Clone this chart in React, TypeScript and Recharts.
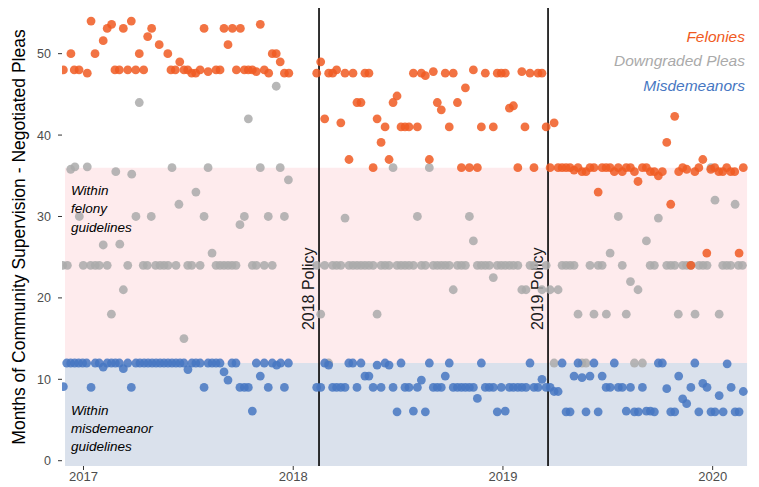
import { ScatterChart, Scatter, XAxis, YAxis, ReferenceArea, ReferenceLine } from 'recharts'

// [decimal year, months of community supervision]
const felonies: [number, number][] = [
  [2016.904, 48], [2016.94, 50], [2016.956, 48], [2016.979, 48], [2017.018, 47.6], [2017.036, 54], [2017.055, 50],
  [2017.094, 51.6], [2017.113, 53.1], [2017.134, 53.6], [2017.15, 48], [2017.171, 48], [2017.19, 53.1], [2017.211, 48],
  [2017.228, 54], [2017.249, 48], [2017.266, 50], [2017.287, 48], [2017.306, 52.1], [2017.325, 53.1], [2017.361, 51.1],
  [2017.402, 50], [2017.417, 48], [2017.438, 48], [2017.459, 49], [2017.479, 48], [2017.497, 48], [2017.516, 47.6],
  [2017.535, 47.6], [2017.556, 48], [2017.575, 53.1], [2017.594, 47.8], [2017.632, 48], [2017.651, 48], [2017.67, 53.1],
  [2017.689, 51.1], [2017.71, 53.1], [2017.729, 48], [2017.748, 53.1], [2017.767, 48], [2017.786, 48], [2017.805, 48],
  [2017.824, 47.8], [2017.843, 53.6], [2017.862, 48], [2017.883, 47.6], [2017.9, 50], [2017.919, 50], [2017.938, 49],
  [2017.958, 47.6], [2017.979, 47.6],
  [2018.112, 47.6], [2018.131, 49], [2018.15, 42], [2018.169, 47.6], [2018.188, 47.6], [2018.207, 48], [2018.227, 41.5],
  [2018.247, 47.6], [2018.266, 37], [2018.285, 47.6], [2018.304, 44], [2018.323, 44], [2018.342, 47.6], [2018.361, 47.6],
  [2018.381, 36], [2018.4, 42], [2018.419, 39.1], [2018.438, 41], [2018.457, 37], [2018.476, 44], [2018.495, 44.8],
  [2018.514, 41], [2018.533, 41], [2018.552, 41], [2018.573, 47.6], [2018.592, 41], [2018.611, 47.6], [2018.63, 47.3],
  [2018.649, 37], [2018.668, 47.8], [2018.687, 44], [2018.706, 43.1], [2018.725, 47.6], [2018.744, 41], [2018.763, 47.6],
  [2018.783, 44], [2018.802, 36], [2018.821, 45.8], [2018.84, 36], [2018.859, 48], [2018.878, 36], [2018.897, 41],
  [2018.916, 47.6], [2018.954, 41], [2018.973, 47.6], [2018.992, 47.6], [2019.011, 47.6], [2019.031, 43.3], [2019.05, 43.6],
  [2019.071, 36], [2019.09, 47.8], [2019.105, 41], [2019.129, 47.6], [2019.148, 36], [2019.167, 47.6], [2019.186, 47.6],
  [2019.206, 41], [2019.225, 36], [2019.244, 41.5], [2019.263, 36], [2019.282, 36], [2019.301, 36], [2019.32, 36],
  [2019.339, 35.7], [2019.358, 36], [2019.377, 35.5], [2019.396, 35.5], [2019.415, 36], [2019.434, 36], [2019.454, 33],
  [2019.473, 36], [2019.492, 36], [2019.511, 36], [2019.531, 35.5], [2019.55, 36], [2019.569, 35.5], [2019.588, 36],
  [2019.608, 36], [2019.627, 35.5], [2019.644, 34.3], [2019.665, 36], [2019.684, 36], [2019.703, 35.5], [2019.722, 35.5],
  [2019.741, 35], [2019.76, 35.5], [2019.781, 39.1], [2019.8, 31.5], [2019.819, 42.3], [2019.838, 35.5], [2019.857, 36],
  [2019.876, 35.8], [2019.896, 24], [2019.915, 35.5], [2019.934, 36], [2019.953, 37], [2019.972, 25.5], [2019.991, 35.8],
  [2020.01, 36], [2020.029, 35.5], [2020.048, 35.5], [2020.067, 36], [2020.086, 35.5], [2020.105, 35.5], [2020.126, 25.5],
  [2020.146, 36],
]

const downgraded: [number, number][] = [
  [2016.901, 24], [2016.923, 24], [2016.939, 35.8], [2016.959, 36.1], [2016.98, 30], [2016.999, 24], [2017.018, 36.1],
  [2017.034, 24], [2017.056, 24], [2017.075, 24], [2017.094, 26.5], [2017.113, 24], [2017.133, 18], [2017.154, 35.5],
  [2017.173, 26.6], [2017.19, 21], [2017.211, 24], [2017.23, 35.2], [2017.25, 30], [2017.266, 44], [2017.285, 24],
  [2017.304, 24], [2017.323, 30], [2017.344, 24], [2017.365, 24], [2017.384, 24], [2017.403, 24], [2017.422, 36],
  [2017.441, 24], [2017.455, 31.5], [2017.479, 15], [2017.497, 24], [2017.516, 24], [2017.536, 33], [2017.556, 24],
  [2017.575, 30], [2017.594, 36], [2017.613, 25.5], [2017.632, 24], [2017.651, 24], [2017.67, 24], [2017.689, 24],
  [2017.708, 24], [2017.727, 24], [2017.746, 29], [2017.767, 30], [2017.786, 42], [2017.805, 24], [2017.824, 24],
  [2017.843, 36], [2017.862, 24], [2017.881, 30], [2017.9, 24], [2017.919, 46], [2017.938, 36], [2017.958, 30],
  [2017.977, 34.5],
  [2018.112, 24], [2018.131, 18], [2018.15, 24], [2018.169, 12], [2018.188, 24], [2018.207, 24], [2018.227, 24],
  [2018.247, 29.8], [2018.266, 24], [2018.285, 24], [2018.304, 24], [2018.323, 24], [2018.342, 24], [2018.361, 24],
  [2018.381, 24], [2018.4, 18], [2018.419, 24], [2018.438, 24], [2018.457, 24], [2018.476, 36], [2018.495, 24],
  [2018.514, 24], [2018.533, 24], [2018.552, 24], [2018.573, 24], [2018.592, 30], [2018.611, 24], [2018.63, 24],
  [2018.649, 36], [2018.668, 24], [2018.687, 24], [2018.706, 24], [2018.725, 24], [2018.744, 24], [2018.763, 21],
  [2018.783, 24], [2018.802, 24], [2018.821, 24], [2018.84, 30], [2018.859, 27], [2018.878, 24], [2018.897, 24],
  [2018.916, 24], [2018.935, 24], [2018.954, 22.5], [2018.973, 24], [2018.992, 24], [2019.011, 24], [2019.031, 24],
  [2019.05, 24], [2019.071, 24], [2019.09, 21], [2019.11, 21], [2019.129, 24], [2019.148, 24], [2019.186, 21],
  [2019.206, 24], [2019.225, 21], [2019.244, 12], [2019.263, 21], [2019.282, 24], [2019.301, 24], [2019.32, 24],
  [2019.339, 24], [2019.358, 18], [2019.377, 12], [2019.396, 12], [2019.415, 24], [2019.434, 18], [2019.454, 24],
  [2019.473, 24], [2019.493, 18], [2019.511, 25.5], [2019.55, 30], [2019.569, 24], [2019.588, 18], [2019.608, 22],
  [2019.627, 12], [2019.644, 21], [2019.665, 12], [2019.684, 27], [2019.702, 24], [2019.722, 24], [2019.741, 29.8],
  [2019.781, 24], [2019.8, 24], [2019.819, 24], [2019.836, 18], [2019.857, 24], [2019.876, 24], [2019.896, 24],
  [2019.916, 18], [2019.935, 24], [2019.954, 24], [2019.973, 24], [2019.992, 36], [2020.011, 32], [2020.031, 18],
  [2020.048, 24], [2020.067, 24], [2020.086, 24], [2020.107, 31.5], [2020.123, 24], [2020.142, 24],
]

const misdemeanors: [number, number][] = [
  [2016.904, 9.1], [2016.92, 12], [2016.939, 12], [2016.958, 12], [2016.977, 12], [2016.996, 12], [2017.015, 12],
  [2017.036, 9], [2017.056, 12], [2017.075, 12], [2017.094, 11.5], [2017.113, 12], [2017.133, 12], [2017.152, 12],
  [2017.171, 12], [2017.19, 11.3], [2017.211, 12], [2017.228, 9], [2017.25, 12], [2017.269, 12], [2017.289, 12],
  [2017.308, 12], [2017.327, 12], [2017.346, 12], [2017.365, 12], [2017.384, 12], [2017.403, 12], [2017.422, 12],
  [2017.441, 12], [2017.46, 12], [2017.479, 12], [2017.498, 11.2], [2017.517, 12], [2017.536, 12], [2017.556, 12],
  [2017.575, 9], [2017.594, 12], [2017.613, 12], [2017.632, 12], [2017.651, 12], [2017.67, 10.9], [2017.689, 9.9],
  [2017.708, 12], [2017.727, 12], [2017.746, 9], [2017.767, 9], [2017.786, 9], [2017.805, 6.1], [2017.824, 12],
  [2017.843, 10.4], [2017.862, 12], [2017.881, 9], [2017.9, 12], [2017.921, 11.75], [2017.94, 12], [2017.958, 9],
  [2017.977, 12],
  [2018.112, 9], [2018.131, 9], [2018.15, 12], [2018.169, 11.75], [2018.188, 9], [2018.207, 9], [2018.227, 9],
  [2018.247, 9], [2018.265, 12], [2018.284, 12], [2018.304, 9], [2018.323, 12], [2018.342, 10.4], [2018.361, 10.4],
  [2018.381, 9], [2018.4, 11.75], [2018.419, 9], [2018.438, 12], [2018.457, 11.75], [2018.476, 9], [2018.495, 6],
  [2018.514, 12], [2018.533, 9], [2018.552, 9], [2018.573, 6.1], [2018.592, 9], [2018.611, 9.9], [2018.63, 6],
  [2018.649, 12], [2018.668, 9], [2018.687, 9], [2018.706, 9], [2018.725, 10.4], [2018.744, 12], [2018.763, 9],
  [2018.783, 9], [2018.802, 9], [2018.821, 9], [2018.84, 9], [2018.859, 9], [2018.878, 7.65], [2018.897, 12],
  [2018.916, 9], [2018.935, 9], [2018.954, 9], [2018.973, 6], [2018.992, 9], [2019.011, 6.1], [2019.031, 9],
  [2019.05, 9], [2019.071, 9], [2019.09, 9], [2019.11, 9], [2019.129, 12], [2019.148, 9], [2019.167, 9],
  [2019.186, 10], [2019.206, 9], [2019.225, 9], [2019.244, 8.5], [2019.263, 8.5], [2019.282, 12], [2019.301, 6],
  [2019.32, 6], [2019.339, 10.4], [2019.358, 12], [2019.377, 10.2], [2019.396, 6], [2019.415, 10.4], [2019.434, 12],
  [2019.454, 6], [2019.473, 10.4], [2019.492, 9], [2019.511, 9], [2019.531, 12], [2019.55, 9], [2019.569, 9],
  [2019.588, 6.1], [2019.608, 9], [2019.627, 6], [2019.646, 6], [2019.665, 9], [2019.684, 6.1], [2019.703, 6.1],
  [2019.722, 6], [2019.741, 12], [2019.76, 12], [2019.781, 8.85], [2019.8, 6], [2019.819, 6], [2019.838, 10.4],
  [2019.857, 7.6], [2019.876, 7], [2019.896, 9], [2019.915, 12], [2019.934, 6], [2019.953, 9.5], [2019.973, 9],
  [2019.992, 6], [2020.011, 6], [2020.031, 8], [2020.05, 6], [2020.069, 11.9], [2020.088, 9], [2020.107, 6],
  [2020.126, 6], [2020.146, 8.5],
]

const xTicks = [2017, 2018, 2019, 2020]
const yTicks = [0, 10, 20, 30, 40, 50]
const xDomain: [number, number] = [2016.8975, 2020.178]
const yDomain: [number, number] = [-0.65, 55.61]
const bandStart = 2016.912
const bandEnd = 2020.164
const policies = [
  { year: 2018.123, label: '2018 Policy' },
  { year: 2019.215, label: '2019 Policy' },
]

const FONT = '"Liberation Sans", Arial, Helvetica, sans-serif'
const ORANGE = '#F05A22'
const GRAY = '#AAAAAA'
const BLUE = '#4777C2'

const toPoints = (rows: [number, number][]) => rows.map(([x, y]) => ({ x, y }))

const dot = (color: string) => (props: any) => (
  <circle cx={props.cx} cy={props.cy} r={4.4} fill={color} fillOpacity={0.85} />
)

const policyLabel = (text: string) => (props: any) => {
  const vb = props.viewBox ?? {}
  const x = (vb.x ?? 0) - 5
  const y = (vb.y ?? 0) + (vb.height ?? 0) * 0.613
  return (
    <text x={x} y={y} transform={`rotate(-90 ${x} ${y})`} textAnchor="middle" fontFamily={FONT} fontSize={16} fill="#1a1a1a">
      {text}
    </text>
  )
}

export default function App() {
  return (
    <div style={{ position: 'absolute', left: 0, top: 0, width: 759, height: 487, background: '#fff' }}>
      <ScatterChart width={759} height={487} margin={{ top: 8, right: 9, bottom: 0, left: 0 }}>
        <ReferenceArea x1={bandStart} x2={bandEnd} y1={12} y2={36} fill="#FEEBED" fillOpacity={1} stroke="none" />
        <ReferenceArea x1={bandStart} x2={bandEnd} y1={yDomain[0]} y2={12} fill="#DAE1EC" fillOpacity={1} stroke="none" />
        <XAxis
          type="number"
          dataKey="x"
          domain={xDomain}
          ticks={xTicks}
          allowDataOverflow
          height={21}
          axisLine={false}
          tickSize={4}
          tickMargin={2}
          tickLine={{ stroke: '#333333' }}
          tick={{ fontSize: 13, fill: '#4D4D4D', fontFamily: FONT }}
        />
        <YAxis
          type="number"
          dataKey="y"
          domain={yDomain}
          ticks={yTicks}
          allowDataOverflow
          width={62}
          axisLine={false}
          tickSize={4}
          tickMargin={7}
          tickLine={{ stroke: '#333333' }}
          tick={{ fontSize: 12.5, fill: '#4D4D4D', fontFamily: FONT }}
        />
        {policies.map((p) => (
          <ReferenceLine key={p.label} x={p.year} stroke="#000" strokeWidth={1.6} label={policyLabel(p.label)} />
        ))}
        <Scatter data={toPoints(downgraded)} shape={dot(GRAY)} isAnimationActive={false} />
        <Scatter data={toPoints(misdemeanors)} shape={dot(BLUE)} isAnimationActive={false} />
        <Scatter data={toPoints(felonies)} shape={dot(ORANGE)} isAnimationActive={false} />
      </ScatterChart>
      <svg width={759} height={487} style={{ position: 'absolute', left: 0, top: 0, pointerEvents: 'none' }}>
        <text x={25} y={237} transform="rotate(-90 25 237)" textAnchor="middle" fontFamily={FONT} fontSize={17.5} fill="#000">
          Months of Community Supervision - Negotiated Pleas
        </text>
        <g fontFamily={FONT} fontSize={15.5} fontStyle="italic" textAnchor="end">
          <text x={745} y={42} fill={ORANGE}>Felonies</text>
          <text x={745} y={66} fill={GRAY}>Downgraded Pleas</text>
          <text x={745} y={91} fill={BLUE}>Misdemeanors</text>
        </g>
        <g fontFamily={FONT} fontSize={13.5} fontStyle="italic" fill="#000">
          <text x={71} y={195}>Within</text>
          <text x={71} y={213}>felony</text>
          <text x={71} y={232}>guidelines</text>
          <text x={71} y={415}>Within</text>
          <text x={71} y={433}>misdemeanor</text>
          <text x={71} y={451}>guidelines</text>
        </g>
      </svg>
    </div>
  )
}
